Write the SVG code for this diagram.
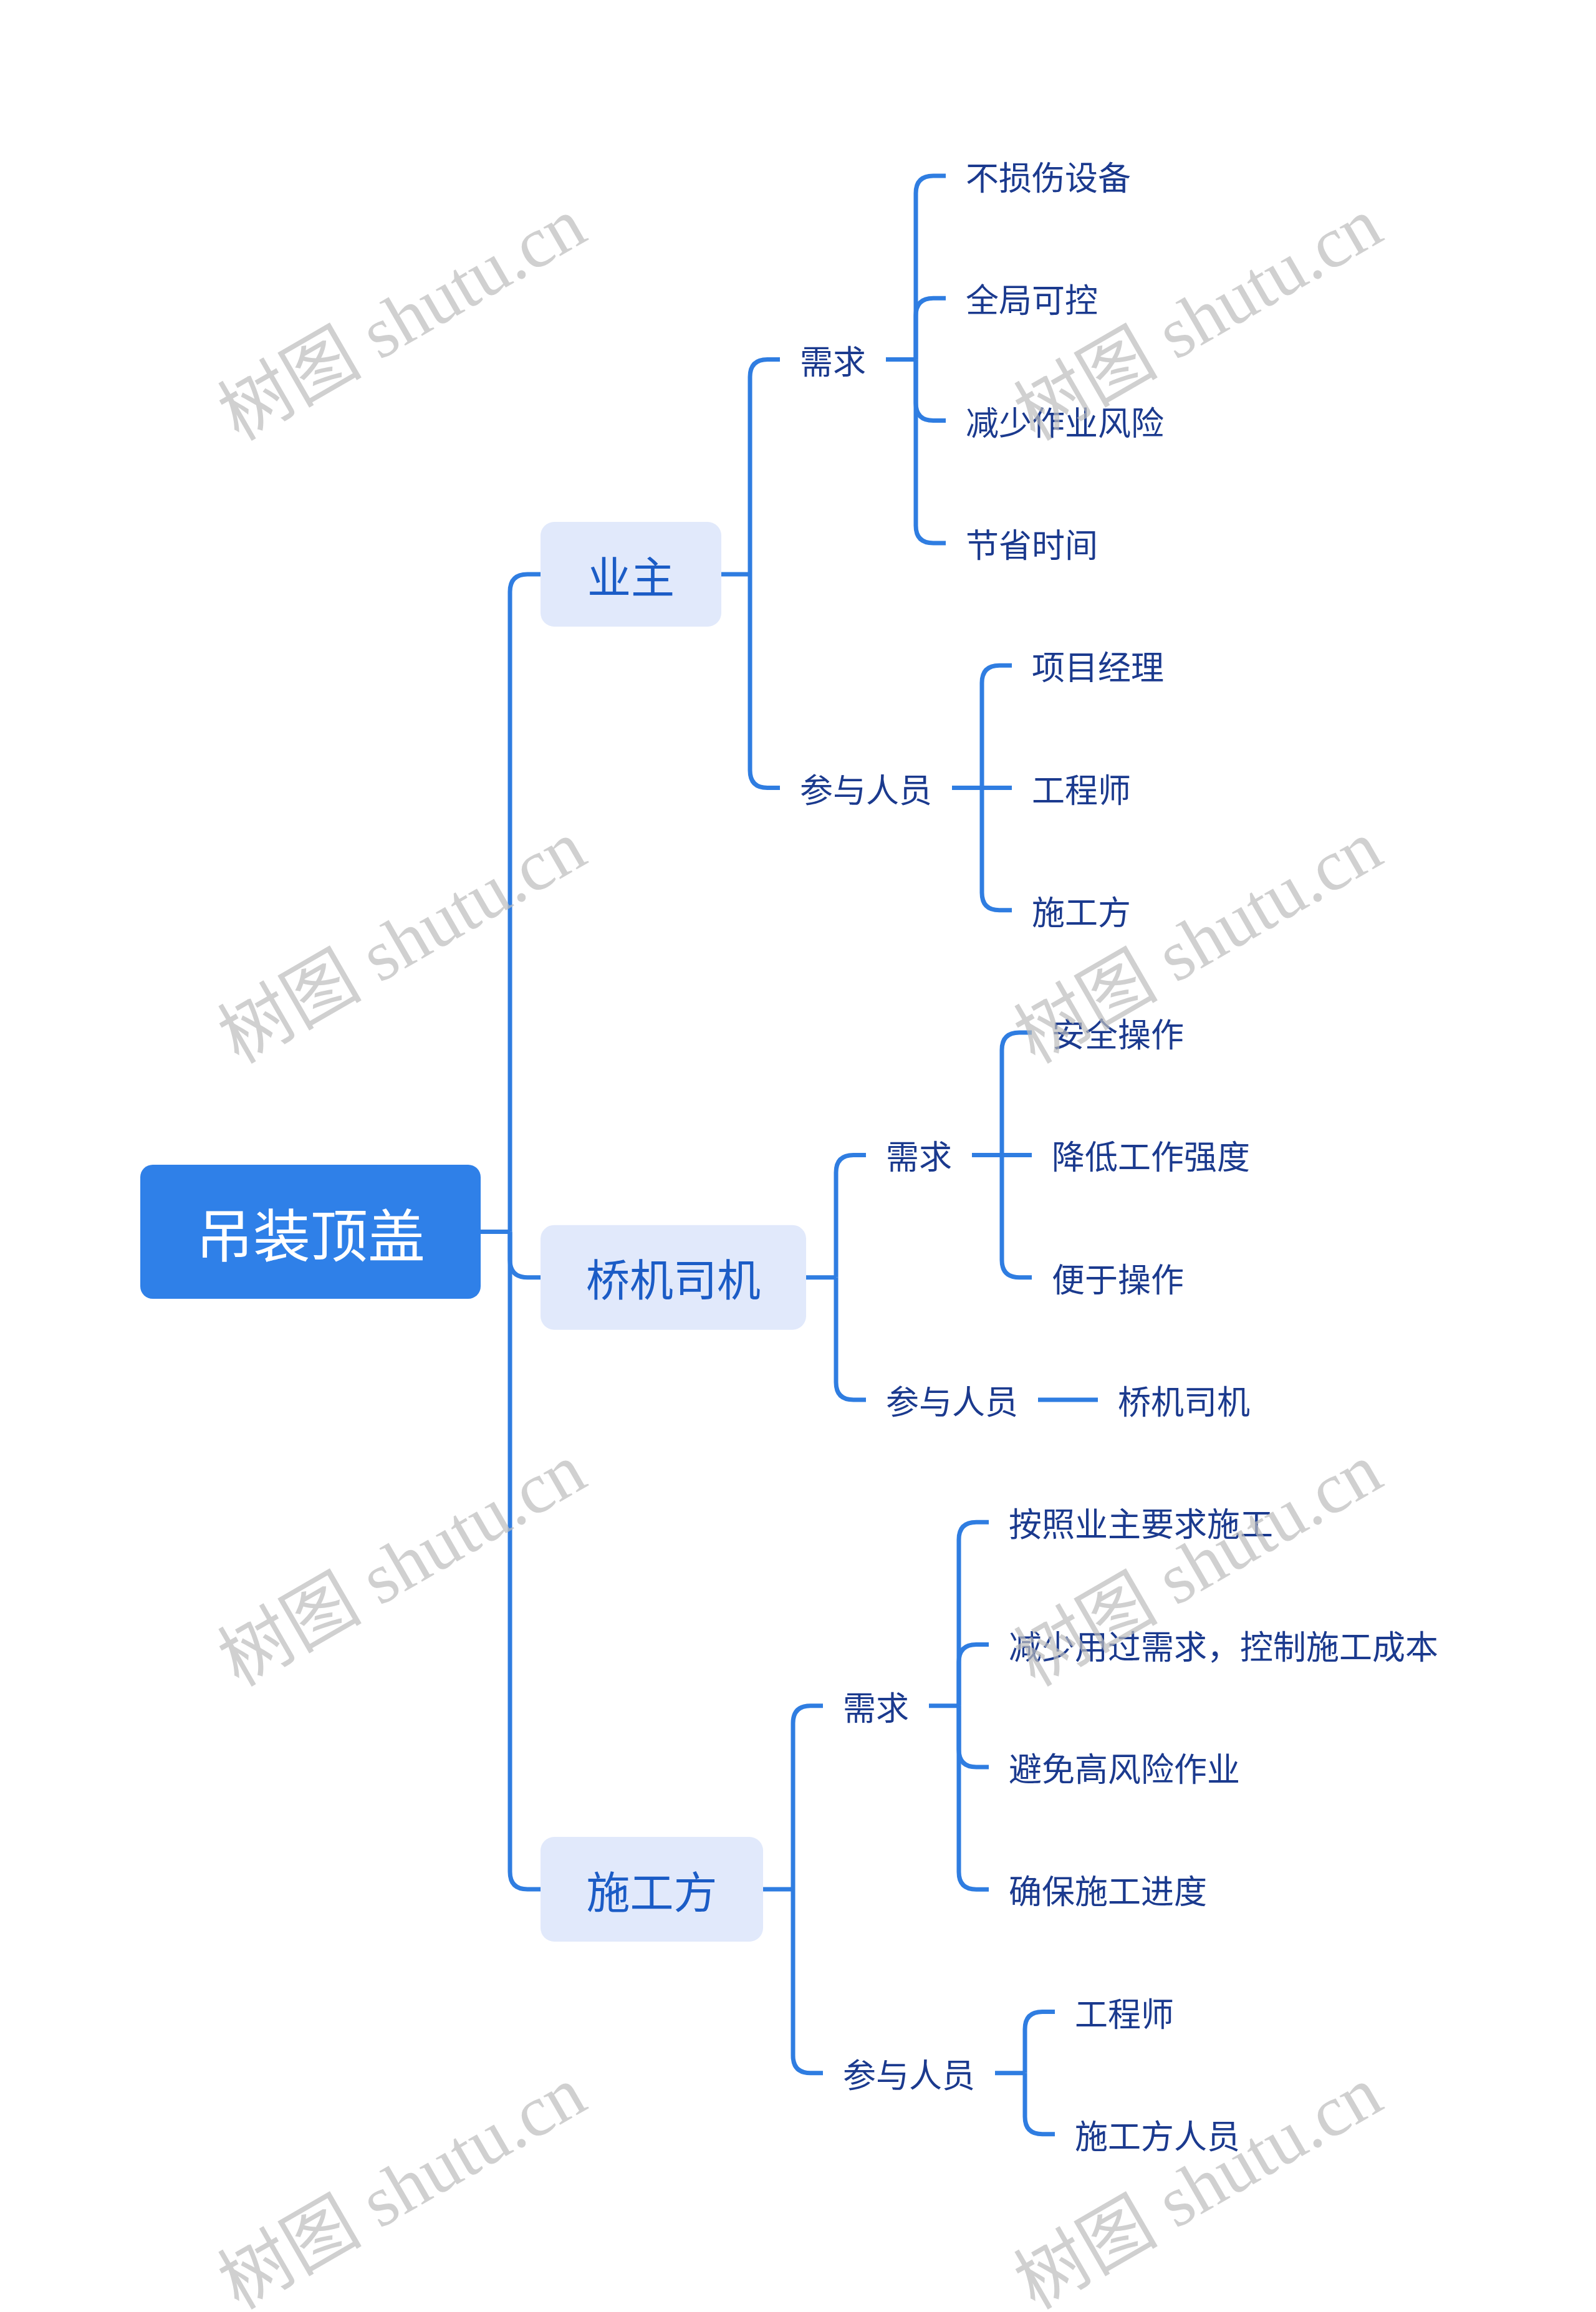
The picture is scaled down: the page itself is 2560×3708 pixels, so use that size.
<svg xmlns="http://www.w3.org/2000/svg" width="2560" height="3708" viewBox="0 0 2560 3708">
<style>
.bg{fill:#ffffff}
.c{fill:none;stroke:#2f7de1;stroke-width:7;stroke-linecap:butt;stroke-linejoin:round}
.root{fill:#2f80e8}
.rt{fill:#ffffff;font-family:"Noto Sans CJK SC","Noto Sans",sans-serif;font-size:92px;text-anchor:middle;dominant-baseline:central}
.l1{fill:#e1e9fb}
.l1t{fill:#1b5cc6;font-family:"Noto Sans CJK SC","Noto Sans",sans-serif;font-size:70px;text-anchor:middle;dominant-baseline:central}
.t{fill:#1b3a8e;font-family:"Noto Sans CJK SC","Noto Sans",sans-serif;font-size:53px;text-anchor:start;dominant-baseline:central}
.wm{fill:#bdbdbd;opacity:0.7;font-family:"Liberation Serif","Noto Sans CJK SC",serif;font-size:116px;text-anchor:middle;dominant-baseline:central}
</style>
<rect class="bg" x="0" y="0" width="2560" height="3708"/>

<g id="connectors">
  <path class="c" d="M771 1975.5 H818"/>
  <path class="c" d="M818 1975.5 V949 Q818 921 846 921 H867"/>
  <path class="c" d="M818 1975.5 V2020.7 Q818 2048.7 846 2048.7 H867"/>
  <path class="c" d="M818 1975.5 V3002 Q818 3030 846 3030 H867"/>

  <path class="c" d="M1157 921 H1203"/>
  <path class="c" d="M1203 921 V604.5 Q1203 576.5 1231 576.5 H1251"/>
  <path class="c" d="M1203 921 V1235.5 Q1203 1263.5 1231 1263.5 H1251"/>
  <path class="c" d="M1421 576.5 H1469"/>
  <path class="c" d="M1469 576.5 V310 Q1469 282 1497 282 H1517"/>
  <path class="c" d="M1469 576.5 V506.3 Q1469 478.3 1497 478.3 H1517"/>
  <path class="c" d="M1469 576.5 V646.6 Q1469 674.6 1497 674.6 H1517"/>
  <path class="c" d="M1469 576.5 V842.9 Q1469 870.9 1497 870.9 H1517"/>
  <path class="c" d="M1527 1263.5 H1623"/>
  <path class="c" d="M1575 1263.5 V1095.2 Q1575 1067.2 1603 1067.2 H1623"/>
  <path class="c" d="M1575 1263.5 V1431.8 Q1575 1459.8 1603 1459.8 H1623"/>

  <path class="c" d="M1293 2048.7 H1341"/>
  <path class="c" d="M1341 2048.7 V1880.4 Q1341 1852.4 1369 1852.4 H1389"/>
  <path class="c" d="M1341 2048.7 V2217 Q1341 2245 1369 2245 H1389"/>
  <path class="c" d="M1559 1852.4 H1655"/>
  <path class="c" d="M1607 1852.4 V1684.1 Q1607 1656.1 1635 1656.1 H1655"/>
  <path class="c" d="M1607 1852.4 V2020.7 Q1607 2048.7 1635 2048.7 H1655"/>
  <path class="c" d="M1665 2245 H1761"/>

  <path class="c" d="M1224 3030 H1272"/>
  <path class="c" d="M1272 3030 V2763.8 Q1272 2735.8 1300 2735.8 H1320"/>
  <path class="c" d="M1272 3030 V3296.7 Q1272 3324.7 1300 3324.7 H1320"/>
  <path class="c" d="M1490 2735.8 H1538"/>
  <path class="c" d="M1538 2735.8 V2469.3 Q1538 2441.3 1566 2441.3 H1586"/>
  <path class="c" d="M1538 2735.8 V2665.6 Q1538 2637.6 1566 2637.6 H1586"/>
  <path class="c" d="M1538 2735.8 V2805.9 Q1538 2833.9 1566 2833.9 H1586"/>
  <path class="c" d="M1538 2735.8 V3002.2 Q1538 3030.2 1566 3030.2 H1586"/>
  <path class="c" d="M1596 3324.7 H1644"/>
  <path class="c" d="M1644 3324.7 V3254.5 Q1644 3226.5 1672 3226.5 H1692"/>
  <path class="c" d="M1644 3324.7 V3394.8 Q1644 3422.8 1672 3422.8 H1692"/>
</g>

<g id="node-root"><rect class="root" x="225" y="1868" width="546" height="215" rx="20"/><text class="rt" x="498" y="1975.5">吊装顶盖</text></g>

<g id="node-yezhu"><rect class="l1" x="867" y="837" width="290" height="168" rx="22"/><text class="l1t" x="1012" y="921">业主</text></g>
<g id="node-qiaoji"><rect class="l1" x="867" y="1964.7" width="426" height="168" rx="22"/><text class="l1t" x="1080" y="2048.7">桥机司机</text></g>
<g id="node-shigong"><rect class="l1" x="867" y="2946" width="357" height="168" rx="22"/><text class="l1t" x="1045.5" y="3030">施工方</text></g>

<g id="node-yz-xq"><text class="t" x="1283" y="576.5">需求</text></g>
<g id="node-yz-xq-1"><text class="t" x="1549" y="282">不损伤设备</text></g>
<g id="node-yz-xq-2"><text class="t" x="1549" y="478.3">全局可控</text></g>
<g id="node-yz-xq-3"><text class="t" x="1549" y="674.6">减少作业风险</text></g>
<g id="node-yz-xq-4"><text class="t" x="1549" y="870.9">节省时间</text></g>
<g id="node-yz-cy"><text class="t" x="1283" y="1263.5">参与人员</text></g>
<g id="node-yz-cy-1"><text class="t" x="1655" y="1067.2">项目经理</text></g>
<g id="node-yz-cy-2"><text class="t" x="1655" y="1263.5">工程师</text></g>
<g id="node-yz-cy-3"><text class="t" x="1655" y="1459.8">施工方</text></g>

<g id="node-qj-xq"><text class="t" x="1421" y="1852.4">需求</text></g>
<g id="node-qj-xq-1"><text class="t" x="1687" y="1656.1">安全操作</text></g>
<g id="node-qj-xq-2"><text class="t" x="1687" y="1852.4">降低工作强度</text></g>
<g id="node-qj-xq-3"><text class="t" x="1687" y="2048.7">便于操作</text></g>
<g id="node-qj-cy"><text class="t" x="1421" y="2245">参与人员</text></g>
<g id="node-qj-cy-1"><text class="t" x="1793" y="2245">桥机司机</text></g>

<g id="node-sg-xq"><text class="t" x="1352" y="2735.8">需求</text></g>
<g id="node-sg-xq-1"><text class="t" x="1618" y="2441.3">按照业主要求施工</text></g>
<g id="node-sg-xq-2"><text class="t" x="1618" y="2637.6">减少用过需求，控制施工成本</text></g>
<g id="node-sg-xq-3"><text class="t" x="1618" y="2833.9">避免高风险作业</text></g>
<g id="node-sg-xq-4"><text class="t" x="1618" y="3030.2">确保施工进度</text></g>
<g id="node-sg-cy"><text class="t" x="1352" y="3324.7">参与人员</text></g>
<g id="node-sg-cy-1"><text class="t" x="1724" y="3226.5">工程师</text></g>
<g id="node-sg-cy-2"><text class="t" x="1724" y="3422.8">施工方人员</text></g>

<g id="watermarks">
  <text class="wm" x="645" y="512" transform="rotate(-30 645 512)">树图 shutu.cn</text>
  <text class="wm" x="645" y="1511" transform="rotate(-30 645 1511)">树图 shutu.cn</text>
  <text class="wm" x="645" y="2510" transform="rotate(-30 645 2510)">树图 shutu.cn</text>
  <text class="wm" x="645" y="3509" transform="rotate(-30 645 3509)">树图 shutu.cn</text>
  <text class="wm" x="1922" y="512" transform="rotate(-30 1922 512)">树图 shutu.cn</text>
  <text class="wm" x="1922" y="1511" transform="rotate(-30 1922 1511)">树图 shutu.cn</text>
  <text class="wm" x="1922" y="2510" transform="rotate(-30 1922 2510)">树图 shutu.cn</text>
  <text class="wm" x="1922" y="3509" transform="rotate(-30 1922 3509)">树图 shutu.cn</text>
</g>
</svg>
